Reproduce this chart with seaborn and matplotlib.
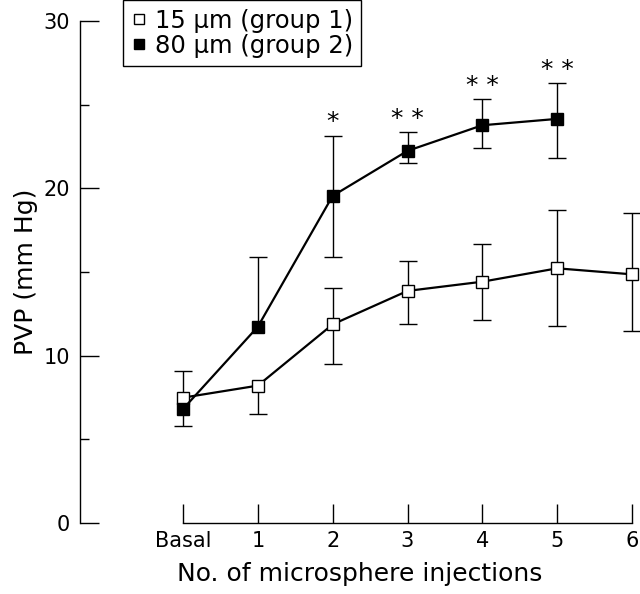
import matplotlib
matplotlib.use("Agg")
import matplotlib.pyplot as plt
from matplotlib.lines import Line2D
import seaborn as sns
import numpy as np
import pandas as pd

# ---- data ----
categories = ["Basal", "1", "2", "3", "4", "5", "6"]
g1_mean = [7.49, 8.21, 11.87, 13.87, 14.42, 15.22, 14.86]
g1_upper = [9.09, None, 14.05, 15.66, 16.68, 18.71, 18.55]
g1_lower = [None, 6.50, 9.52, 11.91, 12.11, 11.78, 11.48]
g2_mean = [6.81, 11.73, 19.55, 22.24, 23.77, 24.15]
g2_upper = [None, 15.92, 23.15, 23.35, 25.33, 26.28]
g2_lower = [5.80, None, 15.92, 21.50, 22.40, 21.84]
g2_signif = ["", "", "*", "* *", "* *", "* *"]
legend_labels = ["15 µm (group 1)", "80 µm (group 2)"]
y_ticks = [0, 10, 20, 30]
y_minor = [5, 15, 25]

sns.set_style("ticks")
plt.rcParams["font.family"] = ["DejaVu Sans"]
plt.rcParams["text.color"] = "black"
plt.rcParams["axes.labelcolor"] = "black"
plt.rcParams["xtick.color"] = "black"
plt.rcParams["ytick.color"] = "black"

W, H = 640, 594
fig = plt.figure(figsize=(W / 100, H / 100), dpi=100)
ax_left, ax_right, ax_top, ax_bot = 80, 640, 21, 523
ax = fig.add_axes([ax_left / W, 1 - ax_bot / H, (ax_right - ax_left) / W, (ax_bot - ax_top) / H])

x_pos = np.arange(len(categories))
px_per_unit = (632 - 183) / 6
xmin = -(183 - ax_left) / px_per_unit
xmax = 6 + (ax_right - 632) / px_per_unit

df1 = pd.DataFrame({"x": x_pos, "y": g1_mean})
df2 = pd.DataFrame({"x": x_pos[:len(g2_mean)], "y": g2_mean})

CAP_PTS = 13  # cap length in points


def draw_err(xs, means, ends):
    for xi, m, e in zip(xs, means, ends):
        if e is None:
            continue
        ax.vlines(xi, min(m, e), max(m, e), colors="black", linewidth=1.0,
                  zorder=1, clip_on=False)
        ax.plot([xi], [e], linestyle="none", marker="_", markersize=CAP_PTS,
                markeredgewidth=1.0, color="black", zorder=1, clip_on=False)


draw_err(df1["x"], g1_mean, g1_upper)
draw_err(df1["x"], g1_mean, g1_lower)
draw_err(df2["x"], g2_mean, g2_upper)
draw_err(df2["x"], g2_mean, g2_lower)

sns.lineplot(data=df1, x="x", y="y", ax=ax, color="black", linewidth=1.6,
             marker="s", markersize=8.5, markerfacecolor="white",
             markeredgecolor="black", markeredgewidth=1.0, zorder=3, clip_on=False)
sns.lineplot(data=df2, x="x", y="y", ax=ax, color="black", linewidth=1.6,
             marker="s", markersize=8.5, markerfacecolor="black",
             markeredgecolor="black", markeredgewidth=1.0, zorder=4, clip_on=False)

# significance stars above upper error bar caps
for xi, u, s in zip(df2["x"], g2_upper, g2_signif):
    if s:
        ax.annotate(s, xy=(xi, u), xytext=(0, 1), textcoords="offset points",
                    ha="center", va="bottom", fontsize=18)

ax.set_xlim(xmin, xmax)
ax.set_ylim(0, 30)
ax.set_xticks(x_pos)
ax.set_xticklabels(categories)
ax.set_yticks(y_ticks)
ax.set_yticks(y_minor, minor=True)
ax.tick_params(axis="both", which="major", direction="in", length=13.7, width=1.0,
               labelsize=15)
ax.tick_params(axis="y", which="major", pad=7)
ax.tick_params(axis="x", which="major", pad=6)
ax.tick_params(axis="y", which="minor", direction="in", length=6.5, width=1.0)
ax.tick_params(axis="x", which="minor", bottom=False)

for side in ["top", "right"]:
    ax.spines[side].set_visible(False)
for side in ["left", "bottom"]:
    ax.spines[side].set_linewidth(1.0)
    ax.spines[side].set_color("black")
ax.spines["left"].set_bounds(0, 30)
ax.spines["bottom"].set_bounds(0, 6)

ax.set_xlabel("No. of microsphere injections", fontsize=18, labelpad=8)
ax.set_ylabel("PVP (mm Hg)", fontsize=18, labelpad=4)

handles = [
    Line2D([], [], linestyle="none", marker="s", markersize=7, markerfacecolor="white",
           markeredgecolor="black", markeredgewidth=1.0),
    Line2D([], [], linestyle="none", marker="s", markersize=7, markerfacecolor="black",
           markeredgecolor="black", markeredgewidth=1.0),
]
leg = fig.legend(handles, legend_labels, loc="upper left",
                 bbox_to_anchor=(123 / W, 1.0), bbox_transform=fig.transFigure,
                 fontsize=17.5, frameon=True, fancybox=False, borderaxespad=0,
                 borderpad=0.35, labelspacing=0.05, handlelength=0.6,
                 handletextpad=0.35)
leg.get_frame().set_edgecolor("black")
leg.get_frame().set_linewidth(1.0)
leg.get_frame().set_alpha(None)

fig.savefig("out.png", dpi=100, facecolor="white")
